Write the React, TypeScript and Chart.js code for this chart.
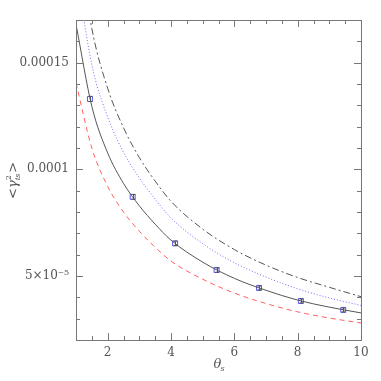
import React, { useEffect, useRef } from "react";
import { Chart, registerables } from "chart.js";

Chart.register(...registerables);

const curveX = [1, 1.5, 2, 2.5, 3, 3.5, 4, 5, 6, 7, 8, 9, 10];
const modelSolid = [1.68e-4, 1.295e-4, 1.077e-4, 9.34e-5, 8.29e-5, 7.43e-5, 6.68e-5, 5.65e-5, 4.89e-5, 4.33e-5, 3.87e-5, 3.54e-5, 3.27e-5];
const modelRed = [1.405e-4, 1.1e-4, 9.2e-5, 8.0e-5, 7.1e-5, 6.35e-5, 5.7e-5, 4.85e-5, 4.2e-5, 3.71e-5, 3.32e-5, 3.03e-5, 2.8e-5];
const modelBlue = [1.94e-4, 1.49e-4, 1.245e-4, 1.08e-4, 9.6e-5, 8.6e-5, 7.72e-5, 6.52e-5, 5.62e-5, 4.95e-5, 4.4e-5, 3.97e-5, 3.62e-5];
const modelDash = [2.15e-4, 1.66e-4, 1.38e-4, 1.195e-4, 1.055e-4, 9.45e-5, 8.5e-5, 7.2e-5, 6.24e-5, 5.51e-5, 4.93e-5, 4.47e-5, 4.03e-5];

const pointX = [1.44, 2.79, 4.13, 5.44, 6.78, 8.1, 9.44];
const pointY = [1.33e-4, 8.71e-5, 6.53e-5, 5.28e-5, 4.44e-5, 3.83e-5, 3.41e-5];
const pointErr = [1.2e-6, 1.1e-6, 1.0e-6, 1.0e-6, 0.9e-6, 0.9e-6, 0.9e-6];

const xMajor = [2, 4, 6, 8, 10];
const xMinor = [1.5, 2.5, 3, 3.5, 4.5, 5, 5.5, 6.5, 7, 7.5, 8.5, 9, 9.5];
const yMajor = [5e-5, 1e-4, 1.5e-4];
const yMinor = [3e-5, 4e-5, 6e-5, 7e-5, 8e-5, 9e-5, 1.1e-4, 1.2e-4, 1.3e-4, 1.4e-4, 1.6e-4];
const yLabels = ["5×10⁻⁵", "0.0001", "0.00015"];

const FONT = "'DejaVu Serif', serif";
const AXIS = "#777";
const TEXT = "#555";

const framePlugin = {
  id: "frame",
  afterDatasetsDraw(chart: any) {
    const { ctx, chartArea: a, scales } = chart;
    const xs = scales.x, ys = scales.y;
    ctx.save();
    // error bars
    ctx.strokeStyle = "#555";
    ctx.lineWidth = 1;
    pointX.forEach((x, i) => {
      const px = Math.round(xs.getPixelForValue(x)) + 0.5;
      const y1 = ys.getPixelForValue(pointY[i] + pointErr[i]);
      const y2 = ys.getPixelForValue(pointY[i] - pointErr[i]);
      ctx.beginPath();
      ctx.moveTo(px, y1);
      ctx.lineTo(px, y2);
      ctx.moveTo(px - 2, y1);
      ctx.lineTo(px + 2, y1);
      ctx.moveTo(px - 2, y2);
      ctx.lineTo(px + 2, y2);
      ctx.stroke();
    });
    // frame
    ctx.strokeStyle = AXIS;
    ctx.lineWidth = 1;
    ctx.strokeRect(Math.round(a.left) + 0.5, Math.round(a.top) + 0.5, Math.round(a.right - a.left), Math.round(a.bottom - a.top));
    const tick = (vals: number[], len: number) => {
      vals.forEach((v) => {
        const px = Math.round(xs.getPixelForValue(v)) + 0.5;
        ctx.beginPath();
        ctx.moveTo(px, a.bottom);
        ctx.lineTo(px, a.bottom - len);
        ctx.moveTo(px, a.top);
        ctx.lineTo(px, a.top + len);
        ctx.stroke();
      });
    };
    const tickY = (vals: number[], len: number) => {
      vals.forEach((v) => {
        const py = Math.round(ys.getPixelForValue(v)) + 0.5;
        ctx.beginPath();
        ctx.moveTo(a.left, py);
        ctx.lineTo(a.left + len, py);
        ctx.moveTo(a.right, py);
        ctx.lineTo(a.right - len, py);
        ctx.stroke();
      });
    };
    tick(xMajor, 7);
    tick(xMinor, 4);
    tickY(yMajor, 7);
    tickY(yMinor, 4);
    // axis titles
    ctx.fillStyle = TEXT;
    ctx.textBaseline = "alphabetic";
    const cx = (a.left + a.right) / 2;
    ctx.font = `italic 13px ${FONT}`;
    ctx.textAlign = "left";
    ctx.fillText("θ", cx - 5, 368);
    ctx.font = `italic 8px ${FONT}`;
    ctx.fillText("s", cx + 2, 371);
    ctx.translate(17, (a.top + a.bottom) / 2);
    ctx.rotate(-Math.PI / 2);
    ctx.font = `13px ${FONT}`;
    let x0 = -19;
    ctx.fillText("<", x0, 0);
    x0 += ctx.measureText("<").width;
    ctx.font = `italic 13px ${FONT}`;
    ctx.fillText("γ", x0, 0);
    const gw = ctx.measureText("γ").width;
    ctx.font = `8px ${FONT}`;
    ctx.fillText("2", x0 + gw, -6);
    ctx.font = `italic 8px ${FONT}`;
    ctx.fillText("is", x0 + gw, 3);
    x0 += gw + ctx.measureText("is").width + 1;
    ctx.font = `13px ${FONT}`;
    ctx.fillText(">", x0, 0);
    ctx.restore();
  },
};

export default function App() {
  const ref = useRef<HTMLCanvasElement>(null);
  useEffect(() => {
    const line = (ys: number[], color: string, dash: number[]) => ({
      type: "line" as const,
      data: curveX.map((x, i) => ({ x, y: ys[i] })),
      borderColor: color,
      borderWidth: 1,
      borderDash: dash,
      pointRadius: 0,
      cubicInterpolationMode: "monotone" as const,
      fill: false,
    });
    const chart = new Chart(ref.current!, {
      type: "line",
      data: {
        datasets: [
          line(modelDash, "#555", [7, 3, 2, 3]),
          line(modelBlue, "#6a6aff", [1, 2]),
          line(modelRed, "#ff6060", [5, 4]),
          line(modelSolid, "#555", []),
          {
            type: "scatter" as const,
            data: pointX.map((x, i) => ({ x, y: pointY[i] })),
            borderColor: "#5555ee",
            backgroundColor: "rgba(0,0,0,0)",
            borderWidth: 1,
            pointStyle: "rect",
            pointRadius: 3.5,
          } as any,
        ],
      },
      options: {
        animation: false,
        responsive: false,
        maintainAspectRatio: false,
        layout: { padding: { top: 20, right: 20, left: 0, bottom: 0 } },
        plugins: { legend: { display: false }, tooltip: { enabled: false } },
        scales: {
          x: {
            type: "linear",
            min: 1,
            max: 10,
            grid: { display: false, drawTicks: false },
            border: { display: false },
            afterBuildTicks: (s: any) => {
              s.ticks = xMajor.map((v) => ({ value: v }));
            },
            afterFit: (s: any) => {
              s.height = 41;
            },
            ticks: {
              padding: 6,
              color: TEXT,
              font: { family: FONT, size: 12 },
              maxRotation: 0,
              callback: (v: any) => String(v),
            },
          },
          y: {
            type: "linear",
            min: 2e-5,
            max: 1.7e-4,
            grid: { display: false, drawTicks: false },
            border: { display: false },
            afterBuildTicks: (s: any) => {
              s.ticks = yMajor.map((v) => ({ value: v }));
            },
            afterFit: (s: any) => {
              s.width = 76;
            },
            ticks: {
              padding: 7,
              color: TEXT,
              font: { family: FONT, size: 12 },
              callback: (v: any) => {
                const i = yMajor.findIndex((m) => Math.abs(m - v) < 1e-9);
                return i >= 0 ? yLabels[i] : "";
              },
            },
          },
        },
      },
      plugins: [framePlugin],
    });
    return () => chart.destroy();
  }, []);
  return (
    <div style={{ position: "fixed", left: 0, top: 0, width: 381, height: 381, background: "#fff" }}>
      <canvas ref={ref} width={381} height={381} style={{ width: 381, height: 381 }} />
    </div>
  );
}
